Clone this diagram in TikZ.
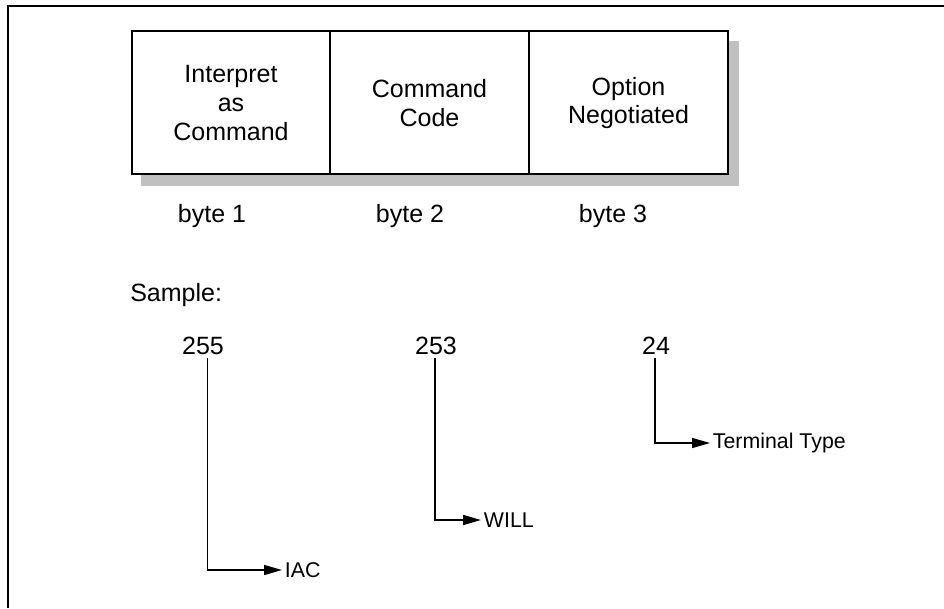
\documentclass[tikz,border=0pt]{standalone}
\usepackage{fontspec}
\setmainfont{Liberation Sans}
\usepackage{xcolor}
\usetikzlibrary{arrows.meta,positioning}
\definecolor{ink}{HTML}{000000}
\definecolor{shadowgray}{HTML}{C0C0C0}

\begin{document}
\begin{tikzpicture}[x=0.75pt,y=-0.75pt,
    celltext/.style={font=\fontsize{18.75}{21.5}\selectfont,text=ink,align=center,inner sep=0pt},
    bytelabel/.style={font=\fontsize{18.75}{21.5}\selectfont,text=ink,inner sep=0pt},
    sampleval/.style={font=\fontsize{18.75}{21.5}\selectfont,text=ink,inner sep=2pt},
    meaning/.style={font=\fontsize{16}{19}\selectfont,text=ink,inner sep=2pt,anchor=west},
    pointer/.style={draw=ink,line width=1.2pt,-{Triangle[length=13.5pt,width=7.5pt]}}]
        \useasboundingbox (0,0) rectangle (944,608);
        \draw[ink,line width=1.3pt] (8,608) -- (8,6) -- (944,6);
        % the three-byte command frame
        \fill[shadowgray] (141,41) rectangle (739,186);
        \draw[ink,line width=1.3pt,fill=white] (132,31) rectangle (728,174);
        \foreach \x in {330,529}{\draw[ink,line width=1.3pt] (\x,31) -- (\x,174);}
        \node[celltext] (iacfield) at (231,103) {Interpret\\as\\Command};
        \node[celltext] (codefield) at (429.5,103) {Command\\Code};
        \node[celltext] (optfield) at (628.5,103) {Option\\Negotiated};
        \foreach \x/\n in {212/1,410/2,613/3}{
          \node[bytelabel] (byte\n) at (\x,216) {byte \n};}
        % sample sequence
        \node[bytelabel,anchor=west] (sample) at (130,295) {Sample:};
        \node[sampleval] (v255) at (203,346) {255};
        \node[sampleval] (v253) at (436,346) {253};
        \node[sampleval] (v24) at (656,346) {24};
        \node[meaning] (iac) at (282,570) {IAC};
        \node[meaning] (will) at (481,520) {WILL};
        \node[meaning] (termtype) at (710,443) {Terminal Type};
        \draw[pointer] ([xshift=3.4pt]v255.south) |- (iac.west);
        \draw[pointer] ([xshift=-0.75pt]v253.south) |- (will.west);
        \draw[pointer] ([xshift=-0.75pt]v24.south) |- (termtype.west);
\end{tikzpicture}
\end{document}
